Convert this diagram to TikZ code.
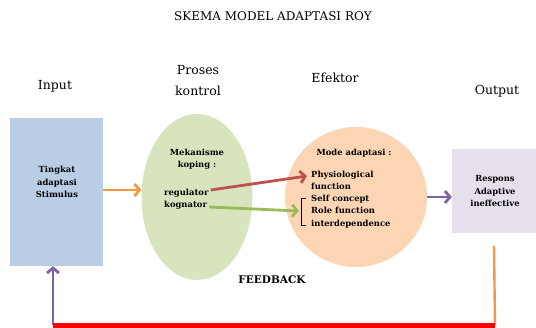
\documentclass[tikz,border=0pt]{standalone}
\usepackage{fontspec}
\setmainfont{DejaVu Serif}
\usepackage{xcolor}
\usetikzlibrary{shapes.geometric,arrows.meta,positioning}
\definecolor{inblue}{HTML}{B9CDE5}
\definecolor{kgreen}{HTML}{D7E4BD}
\definecolor{epeach}{HTML}{FCD5B5}
\definecolor{olav}{HTML}{E6E0EC}
\definecolor{aorange}{HTML}{F79646}
\definecolor{ared}{HTML}{C0504D}
\definecolor{agreen}{HTML}{9BBB59}
\definecolor{apurple}{HTML}{8064A2}

\begin{document}
\begin{tikzpicture}[x=1pt,y=-1pt,
  heading/.style={font=\fontsize{12.5}{21}\selectfont,align=center,inner sep=0pt},
  inner/.style={font=\bfseries\fontsize{8.4}{12.3}\selectfont,inner sep=0pt},
  flow/.style={line width=2.8pt,-{Straight Barb[length=5pt,width=12pt]}},
]
  \useasboundingbox (0,0) rectangle (536,327);
  \node[font=\fontsize{12}{13}\selectfont] (title) at (273,16) {SKEMA MODEL ADAPTASI ROY};
  \node[heading] (lblin) at (55,86) {Input};
  \node[heading] (lblkon) at (198,81) {Proses\\kontrol};
  \node[heading] (lblef) at (335,78) {Efektor};
  \node[heading] (lblout) at (497,91) {Output};
  % boxes
  \node[fill=inblue,minimum width=93pt,minimum height=148pt] (input) at (56.5,192) {};
  \node[inner,align=center] (stim) at (57,182) {Tingkat\\adaptasi\\Stimulus};
  \node[ellipse,fill=kgreen,minimum width=111pt,minimum height=166pt] (kontrol) at (197,197) {};
  \node[inner,align=center] (koping) at (197,159) {Mekanisme\\koping :};
  \node[inner,anchor=west] (reg) at (164,193) {regulator};
  \node[inner,anchor=west] (kog) at (164,205) {kognator};
  \node[ellipse,fill=epeach,minimum width=142pt,minimum height=140pt] (efektor) at (356,197) {};
  \node[inner] (mode) at (354,153) {Mode adaptasi :};
  \node[inner,align=left,anchor=north west] (phys) at (311,171) {Physiological\\function};
  \node[inner,align=left,anchor=north west] (modes) at (311,195) {Self concept\\Role function\\interdependence};
  \node[fill=olav,minimum width=84pt,minimum height=84pt] (output) at (494,191) {};
  \node[inner,align=center] (resp) at (495,191) {Respons\\Adaptive\\ineffective};
  \node[font=\bfseries\fontsize{10.5}{11}\selectfont] (fb) at (272,280) {FEEDBACK};
  % bracket
  \coordinate (brk) at (299,211);
  \draw[line width=0.8pt] (306,198) -| (301,225) -- (306,225);
  % connectors
  \draw[flow,aorange] (input.east |- 0,190) -- (kontrol.west |- 0,190);
  \draw[flow,ared] ([shift={(2,-3)}]reg.east) -- ([shift={(-4,5)}]phys.north west);
  \draw[flow,agreen] ([shift={(2,2)}]kog.east) -- (brk);
  \draw[flow,apurple] (efektor.east) -- (output.west |- efektor.east);
  \coordinate (fbr) at (495,325);
  \coordinate (fbl) at (53,325);
  \draw[aorange,line width=2.4pt] (494,246) -- (fbr);
  \draw[flow,apurple] (fbl) -- (fbl |- input.south);
  \draw[red,line width=5pt] (fbl) -- (fbr);
\end{tikzpicture}
\end{document}
